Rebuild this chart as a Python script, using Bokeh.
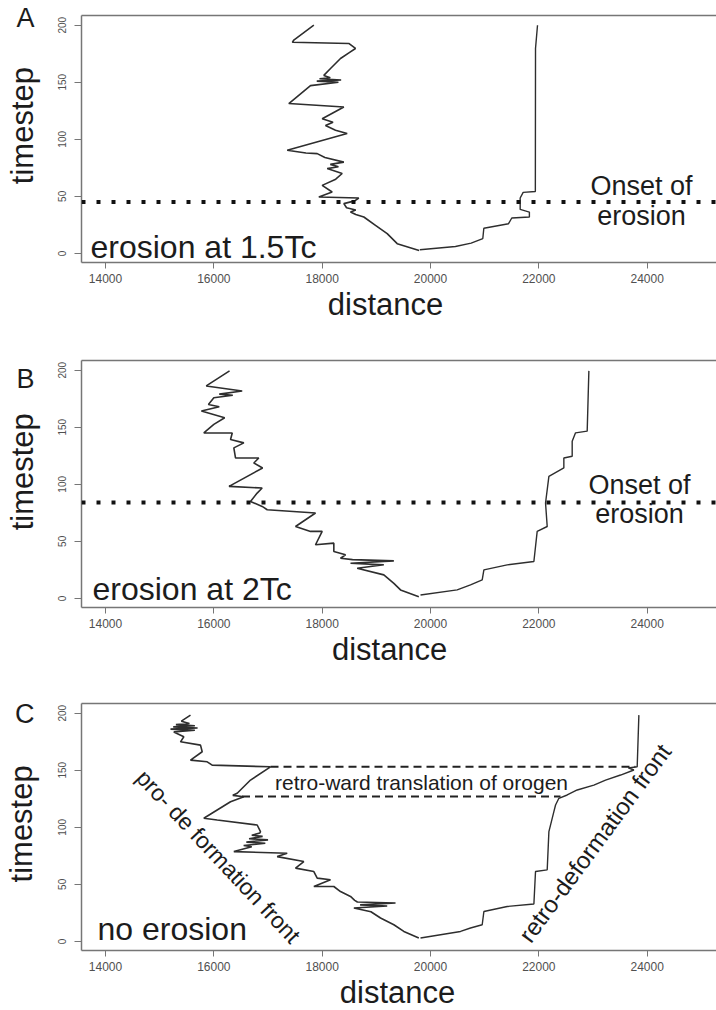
import math
from bokeh.plotting import figure
from bokeh.models import FixedTicker, Label, LinearAxis, Range1d, Span
from bokeh.layouts import column
from bokeh.embed import file_html
from bokeh.resources import INLINE

FONT = "Liberation Sans"

# ---------------- data ----------------
x_ticks = [14000, 16000, 18000, 20000, 22000, 24000]
y_ticks = [0, 50, 100, 150, 200]

# Panel A : erosion at 1.5Tc
A_pro_t = [2.6, 8.5, 17.3, 24.6, 31.9, 34, 36.3, 38, 40, 43.6, 46, 48.5, 49.4, 53.8, 59.6, 65, 70, 74.3, 76, 78, 80,
           84, 87.4, 88, 90.4, 105, 108, 112, 115, 118, 128.3, 131.3, 147, 150, 151, 152, 153, 154, 156, 162, 170.8,
           176, 179.6, 184, 185, 187, 200]
A_pro_d = [19790, 19385, 19200, 18984, 18769, 18620, 18523, 18620, 18450, 18400, 18600, 18676, 17938, 18184, 18000,
           18250, 18369, 18092, 18300, 18150, 18400, 18050, 17908, 17700, 17354, 18461, 18246, 18061, 18200, 18000,
           18400, 17384, 17784, 18300, 17900, 18350, 17950, 18150, 18030, 18154, 18338, 18500, 18615, 18491, 17450,
           17476, 17846]
A_retro_t = [3.2, 6, 9, 13, 22, 26, 31, 31.9, 36.2, 38.5, 48.5, 53.5, 54.2, 179.6, 200]
A_retro_d = [19803, 20460, 20750, 20965, 20984, 21440, 21500, 21825, 21825, 21655, 21655, 21710, 21935, 21938, 21975]
A_onset = 45

# Panel B : erosion at 2Tc
B_pro_t = [1.5, 7.4, 13.2, 20.6, 26.4, 29.4, 30.8, 32.9, 34.0, 35.2, 38.2, 41.1, 48.4, 47.0, 58.7, 58.7, 63, 74.8,
           77.7, 80.6, 85, 92.3, 96.7, 98.2, 114.3, 118.7, 123, 123.1, 131.9, 136.3, 139.3, 145, 145.1, 152.5, 158.3,
           164.2, 168, 170, 175.9, 178, 179, 181.8, 186.2, 199.4]
B_pro_d = [19784, 19446, 19323, 19138, 18646, 19138, 18523, 19323, 18560, 18338, 18431, 18215, 18215, 17877, 18000,
           17785, 17508, 17877, 16985, 16892, 16677, 16800, 16892, 16280, 16900, 16738, 16830, 16400, 16369, 16554,
           16308, 16340, 15815, 16000, 16200, 15770, 16100, 15900, 16000, 16350, 16100, 16523, 15860, 16290]
B_retro_t = [3, 7.4, 11.8, 16.2, 25, 29.4, 32.3, 58.7, 63, 83.6, 107, 114.3, 123, 124.6, 137.8, 145.1, 146.6, 199.4]
B_retro_d = [19815, 20492, 20738, 20954, 20985, 21415, 21908, 21969, 22154, 22123, 22185, 22461, 22461, 22615,
             22615, 22677, 22892, 22923]
B_onset = 84

# Panel C : no erosion
C_pro_t = [3, 8.7, 14.6, 20.5, 26, 29.2, 31, 32, 33.6, 34.5, 36, 39.4, 43.7, 48.1, 48.1, 54, 55.4, 61.2, 64.2, 70,
           74.3, 77.3, 78.7, 83, 84, 86, 87, 89, 90, 92, 93, 95, 96.2, 102, 106.4, 107.9, 122.4, 126.8, 128, 129.8,
           141.4, 153, 154.5, 157.4, 158.9, 166.2, 172, 174.9, 179.3, 183.6, 185, 186, 187, 188, 189, 190, 191, 193,
           198.3]
C_pro_d = [19784, 19507, 19323, 19077, 18900, 18585, 19200, 18700, 19354, 18650, 18600, 18523, 18338, 18215, 17846,
           18154, 17908, 17846, 17508, 17661, 17169, 17354, 16369, 16700, 16550, 16950, 16600, 17000, 16650, 16900,
           16700, 16850, 16861, 16800, 16062, 15815, 16308, 16554, 16350, 16431, 16677, 17046, 15969, 15877, 15569,
           15785, 15754, 15385, 15446, 15261, 15650, 15200, 15700, 15250, 15650, 15300, 15550, 15400, 15569]
C_retro_t = [3, 8.7, 11.7, 14.6, 26.2, 30.6, 32.7, 61.2, 62.7, 96.2, 113.7, 119.5, 125.4, 128.3, 132.7, 137, 141.4,
             145.8, 150.2, 152, 153, 198.3]
C_retro_d = [19815, 20554, 20738, 20954, 20985, 21415, 21908, 21938, 22154, 22185, 22277, 22308, 22369, 22523,
             22708, 23015, 23231, 23508, 23754, 23650, 23815, 23846]
# retro-ward translation markers (timestep, start distance, end distance)
C_transl_t = [153, 127]
C_transl_d0 = [17046, 16520]
C_transl_d1 = [23780, 22400]

# ---------------- styling ----------------
X0, X1 = 13557, 25279
Y0, Y1 = -8, 208.5
PX = (X1 - X0) / 635.0      # data per pixel in x
PY = (Y1 - Y0) / 247.0      # data per pixel in y
AX_COL = "#767676"
TXT = "#1c1c1c"
LINE_COL = "#2e2e2e"


def fx(px):
    return X0 + (px - 81) * PX


def fy(py, top):
    return Y1 - (py - top) * PY


def label(p, x, y, text, size, align="left", baseline="middle", angle=0.0):
    p.add_layout(Label(x=x, y=y, text=text, text_font=FONT, text_font_size=size, text_color=TXT,
                       text_align=align, text_baseline=baseline, angle=angle))


def text_axis(p, side, tick, text, size, orientation, standoff):
    ax = LinearAxis(ticker=FixedTicker(ticks=[tick]), major_label_overrides={tick: text},
                    major_label_text_font=FONT, major_label_text_font_size=size,
                    major_label_text_color=TXT, major_label_orientation=orientation,
                    major_label_standoff=standoff, major_tick_out=0, major_tick_in=0,
                    major_tick_line_color=None, minor_tick_line_color=None,
                    minor_tick_out=0, minor_tick_in=0, axis_line_color=None)
    p.add_layout(ax, side)


def make_panel(border_top, border_bottom, letter, letter_tick, t_title, d_title):
    p = figure(frame_width=635, frame_height=247, min_border_left=81, min_border_right=0,
               min_border_top=border_top, min_border_bottom=border_bottom,
               x_range=Range1d(X0, X1), y_range=Range1d(Y0, Y1),
               output_backend="svg", toolbar_location=None, background_fill_color="white",
               border_fill_color="white")
    p.grid.visible = False
    p.outline_line_color = None
    for ax, ticks in ((p.xaxis[0], x_ticks), (p.yaxis[0], y_ticks)):
        ax.ticker = FixedTicker(ticks=ticks)
        ax.axis_line_color = AX_COL
        ax.axis_line_width = 1.5
        ax.major_tick_line_color = AX_COL
        ax.major_tick_in = 0
        ax.minor_tick_line_color = None
        ax.major_label_text_font = FONT
        ax.major_label_text_color = "#505050"
    p.xaxis.major_tick_out = 6
    p.xaxis.major_label_text_font_size = "12px"
    p.xaxis.major_label_standoff = 5
    p.yaxis.major_tick_out = 7
    p.yaxis.major_label_text_font_size = "10px"
    p.yaxis.major_label_orientation = "vertical"
    p.yaxis.major_label_standoff = 8
    top = LinearAxis(ticker=FixedTicker(ticks=[]), major_label_text_font_size="0px",
                     major_tick_out=0, major_tick_in=0, minor_tick_out=0, minor_tick_in=0,
                     axis_line_color=AX_COL, axis_line_width=1.5)
    p.add_layout(top, "above")
    # panel letter and axis titles as labelled outer axes
    text_axis(p, "left", letter_tick, letter, "27px", "horizontal", 21)
    text_axis(p, "left", t_title, "timestep", "31px", "vertical", -27)
    text_axis(p, "below", d_title, "distance", "31px", "horizontal", 1)
    return p


# ---------------- panel A ----------------
pA = make_panel(15, 83, "A", 206, 112, 19170)
pA.line(A_pro_d, A_pro_t, line_color=LINE_COL, line_width=1.6)
pA.line(A_retro_d, A_retro_t, line_color=LINE_COL, line_width=1.4)
pA.add_layout(Span(location=A_onset, dimension="width", line_color="#111111", line_width=4, line_dash="4 11"))
label(pA, fx(90), fy(246.7, 15), "erosion at 1.5Tc", "32px")
label(pA, fx(641), fy(185, 15), "Onset of", "27px", align="center")
label(pA, fx(641), fy(215, 15), "erosion", "27px", align="center")

# ---------------- panel B ----------------
pB = make_panel(15, 83, "B", 192, 111, 19245)
pB.line(B_pro_d, B_pro_t, line_color=LINE_COL, line_width=1.6)
pB.line(B_retro_d, B_retro_t, line_color=LINE_COL, line_width=1.4)
pB.add_layout(Span(location=B_onset, dimension="width", line_color="#111111", line_width=4, line_dash="4 11"))
label(pB, fx(92), fy(588, 360), "erosion at 2Tc", "32px")
label(pB, fx(639), fy(484, 360), "Onset of", "27px", align="center")
label(pB, fx(639), fy(513.3, 360), "erosion", "27px", align="center")

# ---------------- panel C ----------------
pC = make_panel(13, 60, "C", 199, 103, 19390)
pC.line(C_pro_d, C_pro_t, line_color=LINE_COL, line_width=1.6)
pC.line(C_retro_d, C_retro_t, line_color=LINE_COL, line_width=1.4)
pC.segment(x0=C_transl_d0, y0=C_transl_t, x1=C_transl_d1, y1=C_transl_t,
           line_color="#222222", line_width=2, line_dash="8 5")
label(pC, fx(97), fy(928, 703), "no erosion", "32px")
label(pC, fx(421), fy(781.7, 703), "retro-ward translation of orogen", "21px", align="center")
label(pC, fx(218), fy(856, 703), "pro- de formation front", "23px", align="center", angle=-0.817)
label(pC, fx(594.3), fy(842.5, 703), "retro-deformation front", "24px", align="center", angle=0.937)

layout = column(pA, pB, pC, spacing=0)
with open("out.html", "w") as f:
    f.write(file_html(layout, INLINE))
